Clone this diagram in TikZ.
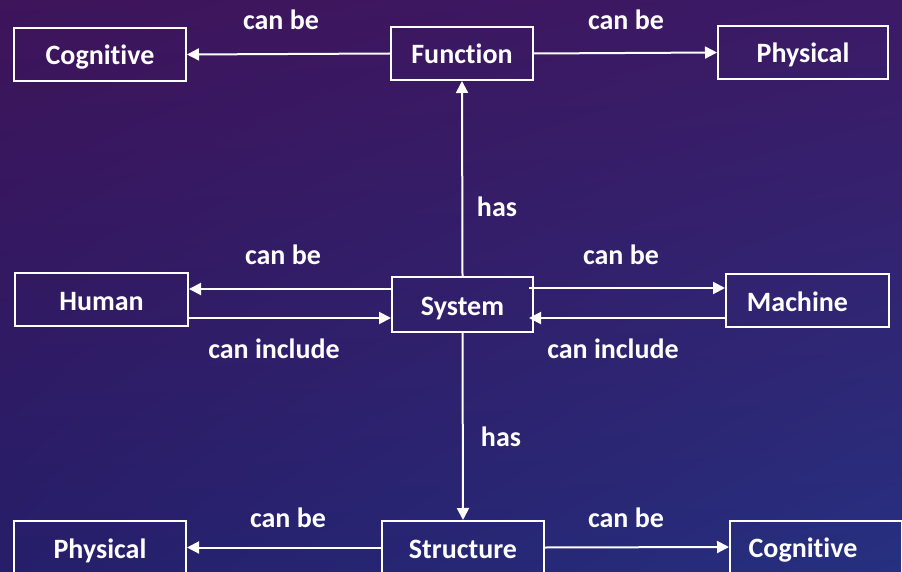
\documentclass[tikz,border=0pt]{standalone}
\usepackage{fontspec}
\setmainfont{Carlito}[Ligatures=NoCommon]
\usetikzlibrary{arrows.meta,shadings}
\definecolor{bgul}{RGB}{62,20,90}
\definecolor{bgur}{RGB}{60,26,102}
\definecolor{bgll}{RGB}{38,30,106}
\definecolor{bglr}{RGB}{38,48,128}
\begin{document}
\begin{tikzpicture}[x=1pt,y=-1pt,
  box/.style={draw=white,line width=2pt,text=white,inner sep=0pt,
    text height=25pt,text depth=4pt,
    font=\fontsize{28}{32}\selectfont\bfseries},
  lbl/.style={text=white,inner sep=0pt,font=\fontsize{28}{32}\selectfont\bfseries},
  conn/.style={draw=white,line width=2pt,-{Triangle[length=12pt,width=12pt]}}]
\useasboundingbox (0,0) rectangle (902,572);
\clip (0,0) rectangle (902,572);
\shade[upper left=bgul,upper right=bgur,lower left=bgll,lower right=bglr] (0,0) rectangle (902,572);

\node[box,minimum width=172pt,minimum height=53pt] (cog1) at (100,54.5) {Cognitive};
\node[box,minimum width=142pt,minimum height=53pt] (func) at (462,53.5) {Function};
\node[box,minimum width=170pt,minimum height=53pt] (phys1) at (803,52.5) {Physical};
\node[box,minimum width=173pt,minimum height=53pt] (human) at (101.5,299.5) {Human};
\node[box,minimum width=141pt,minimum height=55pt] (sys) at (462.5,304.5) {System};
\node[box,minimum width=163pt,minimum height=53pt] (mach) at (807.5,300.5) {Machine\hspace*{20pt}};
\node[box,minimum width=172pt,minimum height=53pt] (phys2) at (100,547.5) {Physical};
\node[box,minimum width=162pt,minimum height=53pt] (struct) at (463,547.5) {Structure};
\node[box,minimum width=172pt,minimum height=53pt] (cog2) at (816,547) {Cognitive\hspace*{26pt}};

\draw[conn] (func.west) -- (cog1.east);
\draw[conn] (func.east) -- (phys1.west);
\draw[conn] (sys.north) -- (func.south);
\draw[conn] (sys.south) -- (struct.north);
\draw[conn] ([yshift=15.5pt]sys.west) -- ([yshift=10.5pt]human.east);
\draw[conn] ([yshift=-18.5pt]human.east) -- ([yshift=-13.5pt]sys.west);
\draw[conn] ([yshift=16.5pt,xshift=-5pt]sys.east) -- ([yshift=12.5pt]mach.west);
\draw[conn] ([yshift=-17.5pt]mach.west) -- ([yshift=-13.5pt,xshift=-5pt]sys.east);
\draw[conn] (struct.west) -- (phys2.east);
\draw[conn] (struct.east) -- (cog2.west);

\node[lbl] (l1) at (281,20) {can be};
\node[lbl] (l2) at (626,20) {can be};
\node[lbl] (l3) at (497,207) {has};
\node[lbl] (l4) at (283,255) {can be};
\node[lbl] (l5) at (621,255) {can be};
\node[lbl] (l6) at (274,349) {can include};
\node[lbl] (l7) at (613,349) {can include};
\node[lbl] (l8) at (501,437) {has};
\node[lbl] (l9) at (288,518) {can be};
\node[lbl] (l10) at (626,518) {can be};
\end{tikzpicture}
\end{document}
